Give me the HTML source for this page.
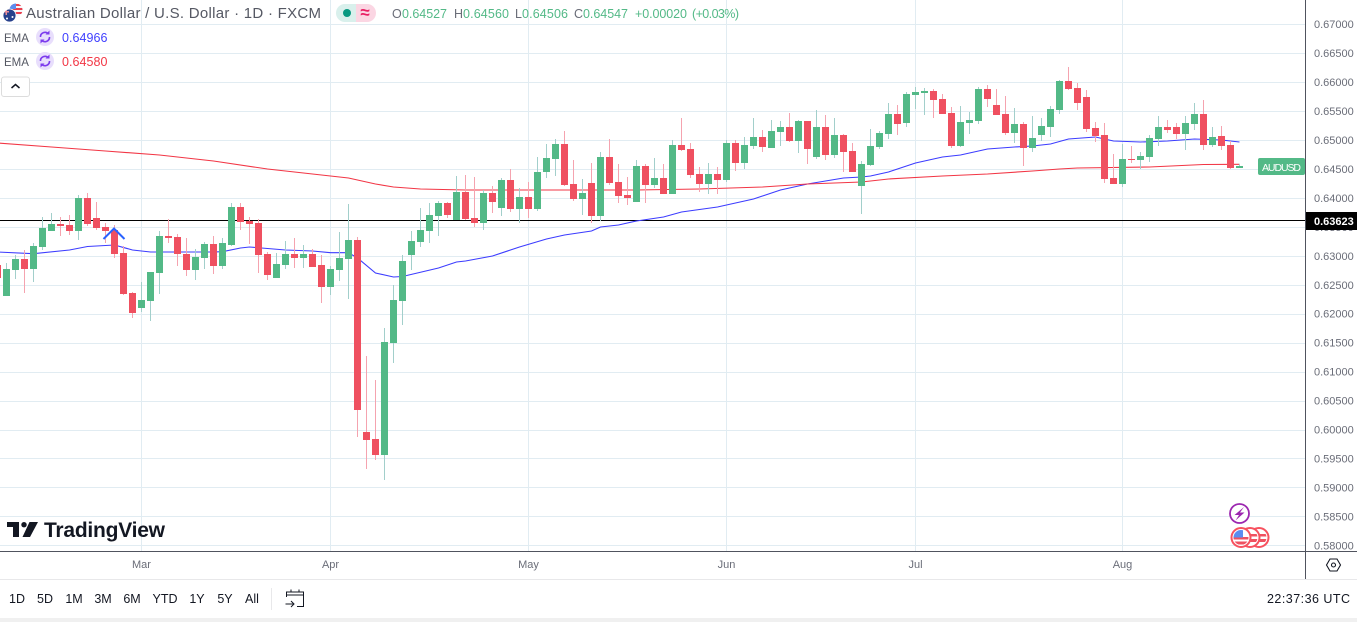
<!DOCTYPE html>
<html lang="en">
<head>
<meta charset="utf-8">
<title>AUDUSD Daily Chart</title>
<style>
html,body{margin:0;padding:0;background:#fff;width:1357px;height:622px;overflow:hidden}
svg{display:block;font-family:"Liberation Sans",sans-serif}
text{white-space:pre}
</style>
</head>
<body>
<svg id="chart" xmlns="http://www.w3.org/2000/svg" width="1357" height="622" viewBox="0 0 1357 622">
<defs>
<clipPath id="c3"><circle cx="1259" cy="537.5" r="7.5"/></clipPath>
<clipPath id="c2"><circle cx="1250" cy="537.5" r="7.5"/></clipPath>
<clipPath id="c1"><circle cx="1241" cy="537.5" r="7.5"/></clipPath>
<clipPath id="cus"><circle cx="16" cy="10" r="6.5"/></clipPath>
<clipPath id="cau"><circle cx="9.5" cy="15.5" r="6.5"/></clipPath>
</defs>
<rect x="0" y="0" width="1357" height="622" fill="#ffffff"/>
<g id="grid"></g>
<g id="emas"></g>
<g id="candles"></g>
<polyline points="103.5,239 114,228.5 124.5,239" fill="none" stroke="#2962ff" stroke-width="2"/>
<g id="axis-labels"></g>

<!-- axis frame -->
<rect x="1305" y="0" width="1" height="579" fill="#50535e"/>
<rect x="0" y="551" width="1357" height="1" fill="#50535e"/>
<rect x="0" y="579" width="1357" height="1" fill="#e8e8ea"/>
<rect x="0" y="618" width="1357" height="4" fill="#f0f0f0"/>

<!-- header -->
<g>
<g clip-path="url(#cus)">
<rect x="9" y="3" width="14" height="14" fill="#f6f6fa"/>
<rect x="9" y="4" width="14" height="2" fill="#e8404f"/>
<rect x="9" y="8" width="14" height="2" fill="#e8404f"/>
<rect x="9" y="12" width="14" height="2" fill="#e8404f"/>
<rect x="9" y="3" width="7" height="6" fill="#5b8def"/>
</g>
<g clip-path="url(#cau)">
<rect x="3" y="9" width="13" height="13" fill="#27418c"/>
<rect x="3" y="11" width="6" height="1.5" fill="#e88c98"/>
<rect x="5.5" y="9" width="1.5" height="6" fill="#e88c98"/>
<circle cx="12.5" cy="17" r="1" fill="#fff"/>
<circle cx="7" cy="18.5" r="1" fill="#fff"/>
</g>
<circle cx="9.5" cy="15.5" r="6.5" fill="none" stroke="#fff" stroke-width="0.8"/>
</g>
<text x="26" y="18" font-size="15" fill="#555863" textLength="295">Australian Dollar / U.S. Dollar · 1D · FXCM</text>
<g>
<path d="M356 4H345a9 9 0 0 0 0 18H356Z" fill="#d9f0ec"/>
<path d="M356 4H367a9 9 0 0 1 0 18H356Z" fill="#fbd6e3"/>
<circle cx="347" cy="13" r="4" fill="#089981"/>
<text x="365" y="18" font-size="17" font-weight="bold" fill="#e91e63" text-anchor="middle">≈</text>
</g>
<g font-size="12.5">
<text x="392" y="18" fill="#6a6d78">O</text><text x="402" y="18" fill="#53b987" textLength="45">0.64527</text>
<text x="454" y="18" fill="#6a6d78">H</text><text x="463" y="18" fill="#53b987" textLength="46">0.64560</text>
<text x="515" y="18" fill="#6a6d78">L</text><text x="522" y="18" fill="#53b987" textLength="46">0.64506</text>
<text x="574" y="18" fill="#6a6d78">C</text><text x="583" y="18" fill="#53b987" textLength="45">0.64547</text>
<text x="635" y="18" fill="#53b987" textLength="52">+0.00020</text>
<text x="692" y="18" fill="#53b987" textLength="47">(+0.03%)</text>
</g>

<g>
<text x="4" y="42" font-size="11.5" fill="#555863">EMA</text>
<circle cx="45" cy="37" r="9" fill="#e8defc"/>
<path d="M40.5 37a4.5 4.5 0 0 1 8-3M49.5 37a4.5 4.5 0 0 1 -8 3" fill="none" stroke="#7c3aed" stroke-width="1.6"/>
<path d="M49.5 30.5v4h-4ZM40.5 43.5v-4h4Z" fill="#7c3aed"/>
<text x="62" y="42" font-size="12.5" fill="#3f3fff" textLength="45.5">0.64966</text>
</g>
<g>
<text x="4" y="66" font-size="11.5" fill="#555863">EMA</text>
<circle cx="45" cy="61" r="9" fill="#e8defc"/>
<path d="M40.5 61a4.5 4.5 0 0 1 8-3M49.5 61a4.5 4.5 0 0 1 -8 3" fill="none" stroke="#7c3aed" stroke-width="1.6"/>
<path d="M49.5 54.5v4h-4ZM40.5 67.5v-4h4Z" fill="#7c3aed"/>
<text x="62" y="66" font-size="12.5" fill="#f23645" textLength="45.5">0.64580</text>
</g>
<g>
<rect x="1.5" y="77" width="28" height="19.5" rx="2.5" fill="#fff" stroke="#dcdcdc"/>
<path d="M11.5 88L15.5 84.5L19.5 88" fill="none" stroke="#131722" stroke-width="1.5"/>
</g>

<!-- logo -->
<g>
<path d="M7 522H19V537H13V527H7Z" fill="#131722"/>
<circle cx="24" cy="524.7" r="2.7" fill="#131722"/>
<path d="M29.5 522H38L30 537H22.5Z" fill="#131722"/>
<text x="44" y="537" font-size="21" font-weight="bold" fill="#131722" textLength="121">TradingView</text>
</g>

<!-- events -->
<g>
<circle cx="1239.5" cy="513.5" r="9.5" fill="#fff" stroke="#9c27b0" stroke-width="1.8"/>
<path d="M1244 507L1234.5 515H1239L1235.5 520.5L1244.5 512.5H1240Z" fill="#9c27b0"/>
</g>
<g>
<circle cx="1259" cy="537.5" r="9.5" fill="#fff" stroke="#f7525f" stroke-width="2"/>
<g clip-path="url(#c3)"><rect x="1250" y="530" width="18" height="15" fill="#fff"/><rect x="1250" y="534" width="18" height="2.5" fill="#ef5160"/><rect x="1250" y="539" width="18" height="3" fill="#ef5160"/></g>
</g>
<g>
<circle cx="1250" cy="537.5" r="9.5" fill="#fff" stroke="#f7525f" stroke-width="2"/>
<g clip-path="url(#c2)"><rect x="1241" y="530" width="18" height="15" fill="#fff"/><rect x="1241" y="534" width="18" height="2.5" fill="#ef5160"/><rect x="1241" y="539" width="18" height="3" fill="#ef5160"/></g>
</g>
<g>
<circle cx="1241" cy="537.5" r="9.5" fill="#fff" stroke="#f7525f" stroke-width="2"/>
<g clip-path="url(#c1)"><rect x="1232" y="530" width="18" height="15" fill="#fff"/><rect x="1232" y="537" width="18" height="2.5" fill="#ef5160"/><rect x="1232" y="541.5" width="18" height="3" fill="#ef5160"/><rect x="1232" y="530" width="11" height="7.5" fill="#5b8def"/></g>
</g>

<!-- price tags -->
<g>
<rect x="1258" y="158" width="47" height="17" rx="2" fill="#53b987"/>
<text x="1262" y="171" font-size="10.5" fill="#fff" textLength="39">AUDUSD</text>
</g>
<g>
<rect x="1306" y="212" width="51" height="18" fill="#000"/>
<text x="1314" y="225" font-size="11" font-weight="bold" fill="#fff">0.63623</text>
</g>
<g>
<path d="M1326.5 565L1330 559H1337L1340.5 565L1337 571H1330Z" fill="none" stroke="#131722" stroke-width="1.1"/>
<circle cx="1333.5" cy="565" r="2" fill="none" stroke="#131722" stroke-width="1.1"/>
</g>

<!-- bottom toolbar -->
<g font-size="12.5" fill="#131722" text-anchor="middle">
<text x="17" y="603">1D</text>
<text x="45" y="603">5D</text>
<text x="74" y="603">1M</text>
<text x="103" y="603">3M</text>
<text x="132" y="603">6M</text>
<text x="165" y="603">YTD</text>
<text x="197" y="603">1Y</text>
<text x="225" y="603">5Y</text>
<text x="252" y="603">All</text>
</g>
<rect x="271" y="588" width="1" height="22" fill="#e8e8ea"/>
<g fill="none" stroke="#131722" stroke-width="1">
<path d="M286.5 597V592H303.5V606.5H297M286.5 595H303.5M291 589.5V592M299 589.5V592"/>
<path d="M285.5 604H294M291 601L294 604L291 607"/>
</g>
<text x="1267" y="603" font-size="12.5" fill="#131722" textLength="83">22:37:36 UTC</text>
</svg>

<script>
// ---- chart data ----
const priceTicks = ["0.67000","0.66500","0.66000","0.65500","0.65000","0.64500","0.64000","0.63500","0.63000","0.62500","0.62000","0.61500","0.61000","0.60500","0.60000","0.59500","0.59000","0.58500","0.58000"];
const monthLabels = ["Mar","Apr","May","Jun","Jul","Aug"];
const monthBars = [16,37,59,81,102,125];
const horizontalLevel = 0.63623;

const opens = [62841,62306,62755,62945,62772,63152,63428,63549,63532,63428,63998,63653,63498,63446,63048,62358,62099,62219,62703,63342,63325,63031,62755,62962,63204,62824,63187,63843,63601,63567,63031,62617,62841,63031,62962,63031,62841,62461,62755,62945,63273,59957,59836,59560,61494,62219,63014,63238,63428,63687,63912,63618,64102,63653,63567,64085,63826,64309,63808,64016,63808,64447,64672,64931,64240,63981,64257,63687,64706,64275,64050,63929,64551,64223,64344,64067,64914,64845,64413,64240,64413,64309,64948,64603,64896,65052,64862,65138,65225,64983,65328,64706,65225,64741,65086,64810,64206,64568,64879,65104,65449,65294,65777,65812,65846,65708,65466,64896,65294,65328,65881,65604,65449,65121,65276,64862,65086,65225,65518,66019,65898,65743,65207,65086,64344,64240,64672,64655,64706,65017,65225,65225,65104,65276,65449,64914,65069,64914,64516];
const highs = [62876,62876,63014,63100,63221,63670,63739,63670,63705,64050,64085,63929,63567,63532,63169,62375,62548,62720,63428,63636,63377,63308,63118,63238,63342,63308,63912,63912,63670,63636,63066,63048,63256,63308,63187,63118,63014,62824,63411,63895,63325,61270,60855,61753,62496,63014,63428,63826,63912,63947,63929,64378,64396,64361,64137,64206,64344,64499,64171,64275,64706,64931,65017,65155,64655,64326,64603,64793,65017,64586,64361,64655,64586,64689,64586,65000,65380,64948,64534,64603,64534,65000,65000,65052,65380,65173,65345,65328,65466,65345,65328,65518,65432,65380,65104,64948,64637,65190,65155,65639,65604,65829,65915,65898,65881,65794,65570,65587,65484,65915,65950,65881,65760,65553,65311,65414,65380,65587,66036,66261,65984,65864,65311,65294,64758,64931,64896,64793,65086,65414,65345,65294,65414,65639,65691,65225,65242,64983,64586];
const lows = [62582,62306,62599,62358,62548,63100,63428,63342,63359,63273,63515,63446,63221,62962,62323,61926,62030,61874,62340,63221,62824,62651,62582,62772,62686,62772,63169,63446,63204,62703,62582,62617,62772,62789,62789,62807,62185,62323,62565,62254,59871,59318,59474,59128,61149,61805,62755,63152,63221,63342,63653,63618,63618,63498,63446,63739,63687,63757,63567,63653,63774,64344,64378,64206,63947,63705,63567,63601,64223,63912,63877,63929,63912,64171,64067,64067,64810,64344,64102,64067,64067,64275,64465,64499,64845,64793,64862,64896,64965,64775,64586,64672,64655,64689,64447,64447,63722,64551,64845,65017,65086,65225,65535,65432,65380,65449,64862,64879,65104,65276,65570,65432,65086,64948,64551,64793,64983,65052,65449,65864,65518,65138,64965,64257,64240,64188,64603,64499,64620,64896,65121,65017,64827,65173,64827,64879,64827,64499,64516];
const closes = [62617,62772,62945,62772,63169,63480,63549,63515,63428,63998,63549,63480,63428,63031,62340,62012,62237,62720,63342,63308,63031,62755,62979,63204,62824,63221,63843,63584,63549,63014,62669,62859,63031,62962,63031,62807,62461,62772,62962,63273,60337,59819,59560,61512,62237,62910,63256,63446,63705,63912,63705,64102,63636,63567,64085,63929,64309,63808,64016,63808,64447,64689,64931,64223,63981,64085,63687,64706,64257,64033,63998,64551,64223,64344,64067,64914,64827,64396,64240,64413,64309,64948,64603,64914,65052,64879,65155,65225,64983,65328,64845,65225,64741,65086,64793,64447,64586,64896,65121,65449,65276,65794,65829,65846,65691,65449,64896,65311,65345,65881,65708,65432,65121,65276,64862,65035,65242,65535,66019,65881,65639,65190,65069,64326,64240,64672,64655,64724,65035,65225,65173,65104,65294,65449,64914,65052,64896,64516,64551];

const emaFastBars = [0,4,8,10,13,15,17,24,25,27,28,32,35,37,39,40,42,44,45,49,51,52,55,58,61,63,66,67,69,71,74,76,80,82,84,87,90,92,94,96,97,99,102,105,107,110,113,115,117,119,122,124,127,130,133,136,138];
const emaFastValues = [63066,63036,63100,63161,63187,63100,63066,63066,63071,63135,63152,63100,63083,63054,63054,62962,62703,62634,62643,62789,62893,62910,62997,63152,63290,63359,63428,63498,63532,63601,63670,63757,63843,63912,63981,64137,64240,64292,64344,64361,64378,64447,64603,64706,64741,64845,64879,64896,64931,65017,65052,64983,64965,64983,65017,65000,64966];
const emaSlowBars = [0,6,12,18,24,30,37,39,42,44,47,52,71,78,85,90,96,99,105,110,115,118,120,128,134,138];
const emaSlowValues = [64948,64879,64810,64741,64637,64499,64378,64344,64240,64188,64154,64137,64137,64154,64188,64240,64275,64326,64378,64413,64465,64499,64516,64534,64577,64580];

// ---- axis functions ----
function yScale(pipettes){ return 140 + (65000 - pipettes) / 17.27; }
function priceY(label){ return yScale(parseFloat(label) * 100000); }
function xScale(bar){ return -2.5 + 9 * bar; }

const NS = 'http://www.w3.org/2000/svg';
const gridLayer = document.getElementById('grid');
const emaLayer = document.getElementById('emas');
const candleLayer = document.getElementById('candles');
const labelLayer = document.getElementById('axis-labels');

function rect(parent, x, y, w, h, fill){
  const r = document.createElementNS(NS, 'rect');
  r.setAttribute('x', x);
  r.setAttribute('y', y);
  r.setAttribute('width', w);
  r.setAttribute('height', h);
  r.setAttribute('fill', fill);
  parent.appendChild(r);
  return r;
}
function label(parent, x, y, str, anchor){
  const t = document.createElementNS(NS, 'text');
  t.setAttribute('x', x);
  t.setAttribute('y', y);
  t.setAttribute('font-size', '11');
  t.setAttribute('fill', '#6a6d78');
  t.setAttribute('text-anchor', anchor);
  t.textContent = str;
  parent.appendChild(t);
  return t;
}

priceTicks.forEach(function(tick){
  const y = priceY(tick);
  const line = rect(gridLayer, 0, Math.round(y), 1305, 1, '#e1ecf2');
  
  
  const text = label(labelLayer, 1314, y + 4, tick, 'start');
  
  
});

monthLabels.forEach(function(month, i){
  const x = xScale(monthBars[i]);
  const line = rect(gridLayer, x - 0.5, 0, 1, 551, '#e1ecf2');
  
  
  const text = label(labelLayer, x, 568, month, 'middle');
  
  
});

const levelLine = rect(gridLayer, 0, Math.round(yScale(horizontalLevel * 100000)), 1305, 1, '#000000');



function drawEma(bars, values, color, name){
  const line = document.createElementNS(NS, 'polyline');
  const pts = bars.map(function(b, i){ return xScale(b).toFixed(1) + ',' + yScale(values[i]).toFixed(1); });
  line.setAttribute('points', pts.join(' '));
  line.setAttribute('fill', 'none');
  line.setAttribute('stroke', color);
  line.setAttribute('stroke-width', '1.1');
  
  
  emaLayer.appendChild(line);
}
drawEma(emaFastBars, emaFastValues, '#3c3cff', 'ema-fast-line');
drawEma(emaSlowBars, emaSlowValues, '#f23645', 'ema-slow-line');

closes.forEach(function(close, i){
  const open = opens[i];
  const up = close >= open;
  const cx = xScale(i);
  const top = Math.round(yScale(Math.max(open, close)));
  const bottom = Math.round(yScale(Math.min(open, close)));
  const hi = Math.round(yScale(highs[i]));
  const lo = Math.round(yScale(lows[i]));
  const wick = rect(candleLayer, cx - 0.5, hi, 1, Math.max(lo - hi, 1), up ? '#a2cfcb' : '#f5a3af');
  
  
  const body = rect(candleLayer, cx - 3.5, top, 7, Math.max(bottom - top, 1), up ? '#53b987' : '#ef5060');
  
  
});
</script>
</body>
</html>
